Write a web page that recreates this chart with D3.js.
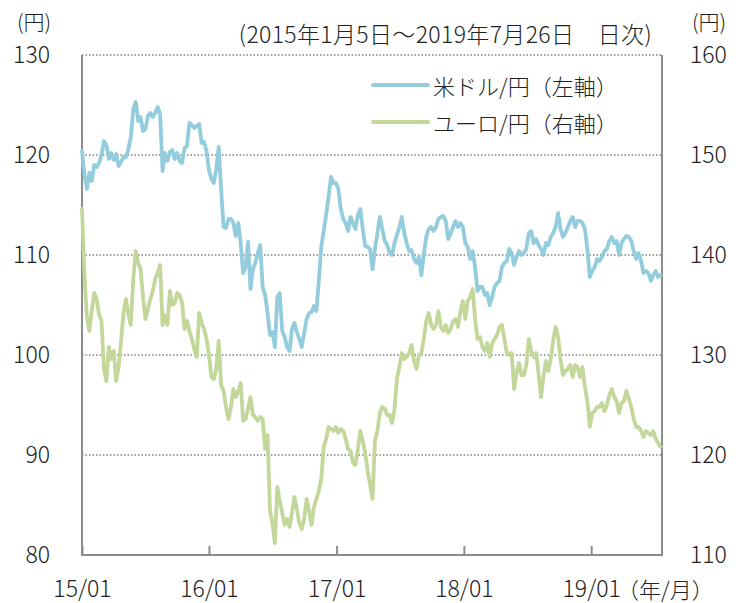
<!DOCTYPE html>
<html>
<head>
<meta charset="utf-8">
<script src="https://d3js.org/d3.v7.min.js"></script>
<style>
  body { margin: 0; background: #fff; }
  text { font-family: "Noto Sans CJK JP", "Noto Sans", sans-serif; font-weight: 300; fill: #222; }
</style>
</head>
<body>
<script>
// weekly samples (Mondays) starting 2015-01-05
const startDate = new Date(2015, 0, 5);
const endDate = new Date(2019, 6, 26);

// 米ドル/円 (left axis)
const usdJpy = [
  // 2015
  120.4, 118.0, 116.6, 118.2, 117.4, 119.0, 118.8, 119.2, 120.0, 121.4, 121.0, 119.6, 120.2,
  119.5, 120.1, 118.9, 119.3, 119.8, 119.8, 120.6, 121.8, 124.6, 125.3, 123.4, 123.8, 122.4,
  122.6, 123.9, 124.2, 123.8, 124.2, 124.8, 124.1, 118.4, 120.2, 119.4, 120.3, 120.5, 119.6,
  120.2, 119.4, 119.2, 120.7, 120.9, 123.2, 123.0, 122.7, 122.9, 123.1, 121.2, 121.3, 120.4,
  // 2016
  118.5, 117.6, 117.2, 118.6, 120.8, 116.5, 112.8, 112.7, 113.6, 113.6, 113.2, 111.9, 113.2,
  111.2, 108.2, 108.8, 111.3, 106.6, 108.6, 109.2, 110.2, 111.0, 106.8, 106.0, 104.2, 102.0,
  102.3, 100.8, 105.8, 106.2, 102.4, 101.8, 100.8, 100.4, 102.6, 103.2, 102.3, 101.6, 100.8,
  102.2, 103.6, 104.2, 104.3, 104.9, 104.4, 107.4, 110.8, 112.4, 114.0, 115.8, 117.8, 117.2,
  // 2017
  117.2, 116.6, 114.6, 113.6, 113.2, 112.4, 113.8, 113.2, 112.6, 114.0, 114.6, 112.6, 110.9,
  110.8, 110.6, 108.6, 110.6, 112.2, 113.8, 112.6, 111.4, 111.0, 110.2, 110.0, 111.2, 112.0,
  112.8, 113.8, 112.2, 111.2, 110.4, 110.5, 109.6, 109.2, 109.8, 108.0, 110.0, 111.8, 112.6,
  112.8, 112.4, 112.8, 113.6, 113.8, 113.9, 113.4, 111.6, 112.2, 112.8, 113.4, 112.8, 113.2,
  // 2018
  112.8, 111.2, 110.8, 109.6, 110.4, 108.8, 106.4, 106.8, 106.8, 106.0, 106.2, 105.0, 105.8,
  106.8, 107.2, 107.4, 108.8, 109.2, 109.4, 110.6, 110.2, 109.0, 109.8, 110.4, 110.0, 110.2,
  110.6, 112.2, 112.4, 111.2, 111.6, 111.0, 110.6, 110.0, 111.2, 111.0, 111.8, 112.2, 112.8,
  114.2, 112.6, 111.8, 112.2, 112.8, 113.4, 113.8, 112.8, 113.4, 113.4, 113.2, 112.6, 110.6,
  // 2019
  107.8, 108.4, 108.8, 109.6, 109.4, 109.8, 110.4, 110.6, 111.4, 111.8, 111.2, 111.4, 110.0,
  111.2, 111.6, 111.9, 111.8, 111.4, 110.4, 109.6, 110.2, 109.4, 108.2, 108.4, 108.2, 107.4,
  108.0, 108.4, 107.8, 108.0
];

// ユーロ/円 (right axis)
const eurJpy = [
  // 2015
  144.6, 138.0, 133.8, 132.4, 134.4, 136.2, 135.6, 134.0, 133.4, 128.6, 127.4, 130.8, 129.6,
  130.4, 127.4, 128.8, 131.4, 134.2, 135.6, 134.0, 133.0, 137.6, 140.4, 139.2, 138.6, 135.8,
  133.6, 134.6, 135.6, 136.4, 137.6, 138.2, 139.0, 133.0, 134.0, 133.0, 136.4, 135.0, 135.2,
  136.2, 136.0, 135.2, 132.6, 133.4, 132.4, 131.6, 130.6, 129.8, 134.2, 133.2, 132.6, 131.6,
  // 2016
  130.0, 127.8, 127.6, 128.6, 131.4, 127.0, 126.4, 124.8, 123.6, 124.8, 126.6, 125.8, 126.4,
  127.2, 123.4, 123.6, 124.6, 125.8, 124.0, 123.8, 123.4, 123.8, 123.6, 120.6, 122.0, 114.4,
  113.2, 111.2, 116.8, 115.4, 114.2, 113.0, 113.6, 112.8, 114.2, 115.8, 114.6, 113.2, 112.6,
  113.6, 115.6, 114.4, 113.0, 114.8, 115.6, 116.4, 117.6, 120.8, 121.6, 122.8, 122.6, 122.4,
  // 2017
  122.8, 122.2, 122.6, 122.4, 121.6, 120.6, 120.4, 119.2, 119.0, 120.6, 122.4, 121.4, 120.2,
  118.4, 117.0, 115.6, 121.4, 122.4, 124.2, 124.8, 124.6, 124.0, 124.0, 123.2, 124.6, 127.6,
  128.8, 130.2, 129.6, 129.8, 130.2, 131.0, 129.4, 128.6, 130.0, 130.2, 131.6, 133.4, 134.2,
  133.0, 132.6, 133.0, 134.4, 132.8, 132.4, 133.0, 132.2, 132.6, 133.4, 133.6, 132.8, 134.4,
  // 2018
  135.4, 133.6, 135.4, 135.8, 136.6, 133.6, 131.6, 131.8, 130.8, 130.4, 131.2, 129.8, 131.2,
  131.6, 132.0, 132.8, 133.0, 131.6, 130.2, 130.0, 130.2, 126.6, 128.2, 129.2, 128.0, 128.0,
  129.0, 131.6, 130.4, 129.8, 130.2, 128.2, 125.8, 127.8, 129.4, 128.4, 129.6, 131.4, 132.8,
  131.8, 129.6, 128.0, 128.4, 128.6, 129.0, 127.8, 129.0, 128.8, 127.8, 128.8, 126.8, 125.4,
  // 2019
  122.8, 124.2, 124.4, 124.8, 124.8, 125.2, 124.4, 125.0, 126.0, 126.6, 125.8, 125.4, 124.2,
  125.2, 125.4, 126.4, 125.6, 124.8, 123.6, 122.8, 122.8, 122.4, 121.8, 122.4, 122.2, 122.0,
  122.4, 121.6, 121.2, 120.8
];

const leftTicks = [80, 90, 100, 110, 120, 130];
const rightTicks = [110, 120, 130, 140, 150, 160];
const gridValues = [90, 100, 110, 120, 130];
const xTickDates = [new Date(2015, 0, 5), new Date(2016, 0, 4), new Date(2017, 0, 4), new Date(2018, 0, 4), new Date(2019, 0, 4)];
const xTickLabels = ["15/01", "16/01", "17/01", "18/01", "19/01"];
const seriesNames = ["米ドル/円（左軸）", "ユーロ/円（右軸）"];
const colors = ["#93cddd", "#c4d79b"];

const width = 747, height = 603;
const margin = {top: 55, right: 85, bottom: 48, left: 82};

const svg = d3.select("body").append("svg")
  .attr("width", width)
  .attr("height", height);

const x = d3.scaleTime()
  .domain([startDate, endDate])
  .range([margin.left, width - margin.right]);
const yL = d3.scaleLinear()
  .domain([80, 130])
  .range([height - margin.bottom, margin.top]);
const yR = d3.scaleLinear()
  .domain([110, 160])
  .range([height - margin.bottom, margin.top]);

const dates = usdJpy.map((v, i) => d3.timeDay.offset(startDate, 7 * i));

// dotted gridlines
svg.append("g")
  .selectAll("line")
  .data(gridValues)
  .join("line")
    .attr("x1", margin.left)
    .attr("x2", width - margin.right)
    .attr("y1", d => yL(d))
    .attr("y2", d => yL(d))
    .attr("stroke", "#7f7f7f")
    .attr("stroke-width", 1.5)
    .attr("stroke-dasharray", "1.5,2");

// frame: left, right, bottom
const frame = svg.append("g").attr("stroke", "#8c8c8c").attr("stroke-width", 2).attr("fill", "none");
frame.append("path")
  .attr("d", d3.line()([[x.range()[0], yL(130)], [x.range()[0], yL(80)], [x.range()[1], yL(80)], [x.range()[1], yL(130)]]));

// axes
const fs = 23;
svg.append("g")
  .attr("transform", "translate(" + margin.left + ",0)")
  .call(d3.axisLeft(yL).tickValues(leftTicks).tickSize(0).tickPadding(32).tickFormat(d3.format("d")))
  .call(g => g.select(".domain").remove())
  .selectAll("text").attr("font-size", fs).attr("font-family", null);

svg.append("g")
  .attr("transform", "translate(" + (width - margin.right) + ",0)")
  .call(d3.axisRight(yR).tickValues(rightTicks).tickSize(0).tickPadding(28).tickFormat(d3.format("d")))
  .call(g => g.select(".domain").remove())
  .selectAll("text").attr("font-size", fs).attr("font-family", null);

const xAxis = svg.append("g")
  .attr("transform", "translate(0," + yL(80) + ")")
  .call(d3.axisBottom(x).tickValues(xTickDates).tickSizeInner(-9).tickSizeOuter(0).tickPadding(26)
    .tickFormat((d, i) => xTickLabels[i]))
  .call(g => g.select(".domain").remove());
xAxis.selectAll("line").attr("stroke", "#8c8c8c").attr("stroke-width", 2);
xAxis.selectAll("text").attr("font-size", fs).attr("font-family", null);

// series lines
const series = [eurJpy, usdJpy];
const scales = [yR, yL];
const seriesColors = [colors[1], colors[0]];
for (var s = 0; s < series.length; s++) {
  const yy = scales[s];
  const vals = series[s];
  svg.append("path")
    .datum(vals)
    .attr("fill", "none")
    .attr("stroke", seriesColors[s])
    .attr("stroke-width", 3.8)
    .attr("stroke-linejoin", "round")
    .attr("stroke-linecap", "round")
    .attr("d", d3.line()
      .x((d, i) => x(dates[i]))
      .y(d => yy(d)));
}

// legend
for (var i = 0; i < seriesNames.length; i++) {
  svg.append("line")
    .attr("x1", 373).attr("x2", 428)
    .attr("y1", 85 + 37 * i).attr("y2", 85 + 37 * i)
    .attr("stroke", colors[i])
    .attr("stroke-width", 4)
    .attr("stroke-linecap", "round");
  svg.append("text")
    .text(seriesNames[i])
    .attr("x", 433)
    .attr("y", 85 + 37 * i)
    .attr("dominant-baseline", "central")
    .attr("font-size", 22);
}

// titles and units
svg.append("text")
  .text("(2015年1月5日～2019年7月26日　日次)")
  .attr("x", 652).attr("y", 33)
  .attr("text-anchor", "end")
  .attr("dominant-baseline", "central")
  .attr("letter-spacing", 0.35)
  .attr("font-size", 23);
svg.append("text")
  .text("(円)")
  .attr("x", 34).attr("y", 21)
  .attr("text-anchor", "middle")
  .attr("dominant-baseline", "central")
  .attr("font-size", 21);
svg.append("text")
  .text("(円)")
  .attr("x", 709).attr("y", 21)
  .attr("text-anchor", "middle")
  .attr("dominant-baseline", "central")
  .attr("font-size", 21);
svg.append("text")
  .text("（年/月）")
  .attr("x", 617).attr("y", 588)
  .attr("dominant-baseline", "central")
  .attr("font-size", 22);
</script>
</body>
</html>
